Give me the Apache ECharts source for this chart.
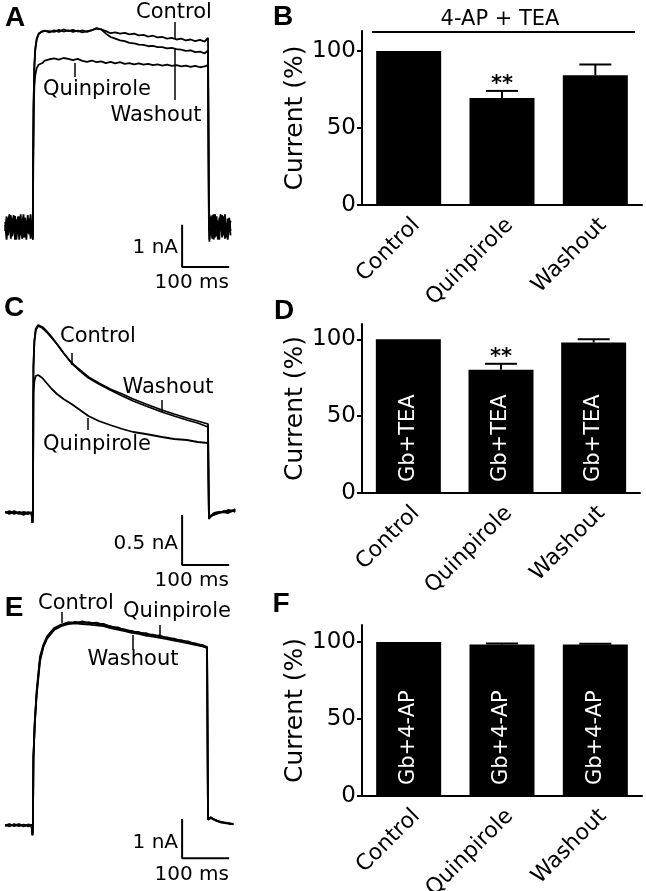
<!DOCTYPE html>
<html>
<head>
<meta charset="utf-8">
<title>Quinpirole and K+ currents</title>
<script src="https://cdn.jsdelivr.net/npm/echarts@6/dist/echarts.min.js"></script>
<style>
  html, body { margin: 0; padding: 0; background: #fff; }
  #chart { width: 646px; height: 891px; }
</style>
</head>
<body>
<div id="chart"></div>
<script>
// ---- bar panels (B, D, F) ----
const conditions = ['Control', 'Quinpirole', 'Washout'];
const yTicks = [0, 50, 100];

const meanB = [100, 69.5, 84.2];
const semB = [0, 4.6, 7.0];
const sigB = ['', '**', ''];

const meanD = [100, 80.3, 98.0];
const semD = [0, 3.8, 2.0];
const sigD = ['', '**', ''];

const meanF = [100, 98.4, 98.3];
const semF = [0, 0.6, 0.6];
const sigF = ['', '', ''];

// ---- current traces (time in ms, current in nA) ----
const aControl = [
  [-59,0.12],[-56,-0.18],[-53,0.22],[-50,-0.05],[-47,0.28],[-44,-0.22],[-41,0.1],[-38,-0.3],[-35,0.18],[-32,-0.12],
  [-29,0.25],[-26,-0.2],[-23,0.05],[-20,0.3],[-17,-0.25],[-14,0.12],[-11,-0.15],[-8,0.2],[-5,-0.28],[-2,0.1],[0,-0.25],
  [0.5,1.6],[1.5,3.0],[3,3.85],[5,4.25],[8,4.48],[12,4.6],[18,4.64],[25,4.67],
  [35,4.63],[45,4.68],[55,4.64],[65,4.7],[75,4.66],[85,4.69],[95,4.65],[105,4.68],[115,4.64],[125,4.68],
  [135,4.73],[145,4.7],[155,4.66],[165,4.61],[175,4.63],[185,4.6],[195,4.62],[205,4.58],[215,4.6],[225,4.56],
  [235,4.57],[245,4.53],[255,4.55],[265,4.51],[275,4.52],[285,4.48],[295,4.5],[305,4.46],[315,4.48],[325,4.44],
  [335,4.46],[345,4.42],[355,4.45],[365,4.41],[372,4.5],
  [374,0.3],[375,-0.35],[378,0.25],[381,-0.15],[384,0.3],[387,-0.25],[390,0.1],[393,-0.3],[396,0.22],[399,-0.1],
  [402,0.28],[405,-0.2],[408,0.15],[411,-0.25],[414,0.2],[417,-0.05],[420,0.15]
];
const aWashout = [
  [-59,-0.1],[-56,0.25],[-53,-0.2],[-50,0.15],[-47,-0.28],[-44,0.2],[-41,-0.12],[-38,0.26],[-35,-0.2],[-32,0.08],
  [-29,-0.3],[-26,0.18],[-23,-0.1],[-20,-0.25],[-17,0.22],[-14,-0.08],[-11,0.28],[-8,-0.18],[-5,0.15],[-2,-0.2],[0,-0.3],
  [0.5,1.5],[1.5,2.95],[3,3.8],[5,4.22],[8,4.46],[12,4.58],[18,4.65],[25,4.66],
  [35,4.66],[45,4.64],[55,4.69],[65,4.65],[75,4.68],[85,4.64],[95,4.67],[105,4.63],[115,4.66],[125,4.68],
  [135,4.72],[145,4.7],[155,4.6],[165,4.52],[175,4.48],[185,4.44],[195,4.42],[205,4.38],[215,4.37],[225,4.34],
  [235,4.33],[245,4.3],[255,4.31],[265,4.28],[275,4.28],[285,4.25],[295,4.26],[305,4.23],[315,4.22],[325,4.19],
  [335,4.2],[345,4.16],[355,4.17],[365,4.13],[372,4.2],
  [374,0.2],[375,-0.3],[378,0.18],[381,-0.28],[384,0.12],[387,0.3],[390,-0.22],[393,0.15],[396,-0.3],[399,0.2],
  [402,-0.12],[405,0.25],[408,-0.28],[411,0.1],[414,-0.15],[417,0.22],[420,-0.1]
];
const aQuinpirole = [
  [-59,0.05],[-56,-0.3],[-53,0.1],[-50,0.3],[-47,-0.15],[-44,0.05],[-41,0.28],[-38,-0.1],[-35,-0.3],[-32,0.25],
  [-29,0.0],[-26,0.3],[-23,-0.28],[-20,0.1],[-17,0.05],[-14,-0.3],[-11,0.2],[-8,-0.05],[-5,0.3],[-2,-0.15],[0,-0.3],
  [0.5,1.5],[1.5,2.8],[3,3.35],[5,3.62],[8,3.78],[12,3.86],[16,3.82],[20,3.9],[25,3.96],
  [35,3.99],[45,4.01],[55,3.98],[65,4.02],[75,4.0],[85,3.97],[95,4.0],[105,3.95],[115,3.93],[125,3.96],
  [135,3.92],[145,3.94],[155,3.9],[165,3.93],[175,3.89],[185,3.92],[195,3.88],[205,3.9],[215,3.87],[225,3.89],
  [235,3.86],[245,3.88],[255,3.85],[265,3.87],[275,3.84],[285,3.86],[295,3.83],[305,3.85],[315,3.82],[325,3.84],
  [335,3.81],[345,3.83],[355,3.8],[365,3.82],[372,3.85],
  [374,-0.1],[375,0.3],[378,-0.2],[381,0.28],[384,-0.3],[387,0.05],[390,0.25],[393,-0.15],[396,0.1],[399,0.3],
  [402,-0.25],[405,0.05],[408,0.3],[411,-0.1],[414,-0.3],[417,0.12],[420,-0.2]
];

const cControl = [
  [-59,0.01],[-50,-0.01],[-40,0.02],[-30,0.0],[-20,-0.02],[-10,0.01],[-3,0.0],[-1,-0.1],[0,0.0],
  [1,1.46],[3,1.72],[6,1.84],[11,1.88],
  [20,1.86],[29,1.82],[40,1.76],[51,1.69],[65,1.6],[82,1.5],[100,1.42],[118,1.35],[140,1.29],[164,1.23],
  [190,1.17],[213,1.12],[240,1.07],[274,1.01],[300,0.97],[327,0.93],[350,0.9],[372,0.86],
  [374,-0.05],[378,-0.03],[385,-0.01],[395,0.0],[405,0.02],[415,0.01],[425,0.03],[430,0.02]
];
const cWashout = [
  [-59,0.0],[-50,0.02],[-40,-0.01],[-30,0.01],[-20,0.0],[-10,-0.01],[-3,0.01],[-1,-0.1],[0,0.0],
  [1,1.45],[3,1.71],[6,1.83],[11,1.87],
  [20,1.85],[29,1.81],[40,1.75],[51,1.69],[65,1.6],[82,1.5],[100,1.43],[118,1.36],[140,1.3],[164,1.24],
  [190,1.19],[213,1.14],[240,1.09],[274,1.03],[300,0.99],[327,0.95],[350,0.92],[372,0.89],
  [374,-0.04],[378,-0.02],[385,0.0],[395,0.01],[405,0.01],[415,0.03],[425,0.02],[430,0.04]
];
const cQuinpirole = [
  [-59,0.01],[-50,0.0],[-40,0.01],[-30,-0.01],[-20,0.01],[-10,0.0],[-3,-0.01],[-1,-0.1],[0,0.0],
  [1,1.2],[3,1.32],[6,1.37],[11,1.38],
  [20,1.35],[29,1.3],[40,1.24],[51,1.19],[65,1.14],[82,1.09],[100,1.03],[118,0.97],[140,0.92],[164,0.88],
  [190,0.84],[213,0.81],[240,0.79],[274,0.76],[300,0.74],[327,0.73],[350,0.71],[372,0.7],
  [374,-0.06],[378,-0.03],[385,-0.02],[395,0.0],[405,0.01],[415,0.0],[425,0.02],[430,0.01]
];

const eControl = [
  [-59,0.02],[-50,-0.03],[-40,0.03],[-30,-0.02],[-20,0.02],[-10,-0.03],[-3,0.0],[-1,-0.26],[0,0.0],
  [1,1.75],[4,2.7],[8,3.46],[15,4.32],[22,4.62],
  [30,4.84],[45,5.05],[60,5.14],[75,5.2],[90,5.18],[105,5.22],[120,5.17],[135,5.19],[150,5.13],[165,5.1],
  [180,5.04],[195,5.02],[210,4.96],[225,4.95],[240,4.89],[255,4.88],[270,4.83],[285,4.81],[300,4.76],
  [315,4.74],[330,4.69],[345,4.66],[360,4.6],[370,4.57],
  [372,0.15],[378,0.2],[383,0.17],[390,0.12],[400,0.08],[410,0.06],[420,0.04],[426,0.03]
];
const eQuinpirole = [
  [-59,0.0],[-50,0.03],[-40,-0.02],[-30,0.02],[-20,-0.03],[-10,0.02],[-3,-0.01],[-1,-0.24],[0,0.0],
  [1,1.7],[4,2.6],[8,3.35],[15,4.2],[22,4.56],
  [30,4.78],[45,5.02],[60,5.12],[75,5.17],[90,5.21],[105,5.18],[120,5.2],[135,5.15],[150,5.16],[165,5.08],
  [180,5.07],[195,4.99],[210,4.98],[225,4.92],[240,4.92],[255,4.85],[270,4.86],[285,4.79],[300,4.78],
  [315,4.71],[330,4.71],[345,4.63],[360,4.62],[370,4.55],
  [372,0.14],[378,0.19],[383,0.15],[390,0.13],[400,0.07],[410,0.07],[420,0.03],[426,0.04]
];
const eWashout = [
  [-59,-0.02],[-50,0.02],[-40,0.0],[-30,0.03],[-20,-0.01],[-10,0.02],[-3,0.01],[-1,-0.25],[0,0.0],
  [1,1.72],[4,2.65],[8,3.4],[15,4.26],[22,4.58],
  [30,4.8],[45,5.0],[60,5.1],[75,5.15],[90,5.17],[105,5.15],[120,5.14],[135,5.12],[150,5.1],[165,5.05],
  [180,5.01],[195,4.97],[210,4.93],[225,4.9],[240,4.86],[255,4.83],[270,4.8],[285,4.77],[300,4.73],
  [315,4.7],[330,4.66],[345,4.62],[360,4.58],[370,4.54],
  [372,0.16],[378,0.21],[383,0.16],[390,0.11],[400,0.09],[410,0.05],[420,0.05],[426,0.02]
];

// scale bars: [ms, nA]
const scaleA = [[317, 0.05], [317, -0.95], [417, -0.95]];
const scaleC = [[317, -0.02], [317, -0.52], [417, -0.52]];
const scaleE = [[317, 0.16], [317, -0.84], [417, -0.84]];

const FONT = 'DejaVu Sans';
const chart = echarts.init(document.getElementById('chart'));

// trace panels: grids 0, 2, 4 ; bar panels: grids 1, 3, 5
const grids = [
  { left: 0, top: 0, width: 240, height: 290 },
  { left: 362, top: 31, width: 280, height: 174 },
  { left: 0, top: 298, width: 240, height: 290 },
  { left: 362, top: 324, width: 278, height: 169 },
  { left: 0, top: 591, width: 240, height: 289 },
  { left: 362, top: 625, width: 280, height: 171 }
].map(g => Object.assign(g, { containLabel: false, outerBoundsMode: 'none' }));
const traceY = [[-1.5, 5.4], [-0.75, 2.15], [-1.4, 6.0]];
const barMax = [113, 110, 111];

const xAxes = [], yAxes = [];
for (let p = 0; p < 3; p++) {
  xAxes.push({ gridIndex: p * 2, type: 'value', min: -70, max: 440, show: false });
  yAxes.push({ gridIndex: p * 2, type: 'value', min: traceY[p][0], max: traceY[p][1], show: false });
  xAxes.push({
    gridIndex: p * 2 + 1, type: 'category', data: conditions,
    axisLine: { lineStyle: { color: '#000', width: 2 } },
    axisTick: { show: false },
    axisLabel: { color: '#000', fontSize: 22, fontFamily: FONT, rotate: 45, margin: 9, interval: 0, verticalAlign: 'top' }
  });
  yAxes.push({
    gridIndex: p * 2 + 1, type: 'value', min: 0, max: barMax[p],
    axisLine: { show: true, lineStyle: { color: '#000', width: 2 } },
    axisTick: { show: true, length: 5, customValues: yTicks, lineStyle: { color: '#000', width: 2 } },
    axisLabel: { color: '#000', fontSize: 23, fontFamily: FONT, margin: 6, customValues: yTicks },
    splitLine: { show: false },
    name: 'Current (%)', nameLocation: 'middle', nameGap: 54,
    nameTextStyle: { color: '#000', fontSize: 25, fontFamily: FONT }
  });
}

function traceSeries(data, idx) {
  return {
    type: 'line', xAxisIndex: idx, yAxisIndex: idx, data: data,
    showSymbol: false, symbol: 'none',
    lineStyle: { color: '#000', width: 1.8 }
  };
}
function scaleSeries(data, idx) {
  return {
    type: 'line', xAxisIndex: idx, yAxisIndex: idx, data: data,
    showSymbol: false, symbol: 'none',
    lineStyle: { color: '#000', width: 2 }
  };
}
function barSeries(means, idx, inner) {
  return {
    type: 'bar', xAxisIndex: idx, yAxisIndex: idx, data: means, barWidth: 65,
    itemStyle: { color: '#000' },
    label: inner ? {
      show: true, formatter: inner, position: 'insideBottom', rotate: 90,
      align: 'left', verticalAlign: 'middle', distance: 11,
      color: '#fff', fontSize: 21, fontFamily: FONT
    } : { show: false }
  };
}
function errorSeries(means, sems, sig, idx) {
  return {
    type: 'custom', xAxisIndex: idx, yAxisIndex: idx, z: 5,
    data: means.map((m, i) => [i, m, sems[i]]),
    renderItem: function (params, api) {
      const i = api.value(0), m = api.value(1), e = api.value(2);
      const base = api.coord([i, m]);
      const top = api.coord([i, m + e]);
      const children = [];
      if (e > 0) {
        children.push({ type: 'line', shape: { x1: base[0], y1: base[1], x2: top[0], y2: top[1] },
          style: { stroke: '#000', lineWidth: 2 } });
        children.push({ type: 'line', shape: { x1: top[0] - 16, y1: top[1], x2: top[0] + 16, y2: top[1] },
          style: { stroke: '#000', lineWidth: 2 } });
      }
      if (sig[params.dataIndex]) {
        children.push({ type: 'text', x: top[0], y: top[1] - 6,
          style: { text: sig[params.dataIndex], font: 'bold 21px ' + FONT, fill: '#000', align: 'center', verticalAlign: 'middle' } });
      }
      return { type: 'group', children: children };
    }
  };
}

// text annotations
function txt(s, x, y, size, align, weight) {
  return { type: 'text', x: x, y: y, z: 10,
    style: { text: s, font: (weight || 'normal') + ' ' + size + 'px ' + (weight ? 'Liberation Sans' : FONT),
      fill: '#000', align: align || 'center', verticalAlign: 'middle' } };
}
function tick(x, y1, y2) {
  return { type: 'line', z: 10, shape: { x1: x, y1: y1, x2: x, y2: y2 }, style: { stroke: '#000', lineWidth: 1.5 } };
}

const graphics = [
  txt('A', 15, 18, 28, 'center', 'bold'),
  txt('B', 283, 17, 28, 'center', 'bold'),
  txt('C', 14, 308, 28, 'center', 'bold'),
  txt('D', 284, 311, 28, 'center', 'bold'),
  txt('E', 14, 608, 28, 'center', 'bold'),
  txt('F', 281, 604, 28, 'center', 'bold'),
  // panel A labels
  txt('Control', 174, 13, 21), tick(175, 22, 39),
  txt('Washout', 156, 116, 21), tick(175, 48, 100),
  txt('Quinpirole', 97, 90, 21), tick(75, 63, 77),
  txt('1 nA', 178, 248, 20, 'right'), txt('100 ms', 229, 283, 20, 'right'),
  // panel C labels
  txt('Control', 98, 337, 21), tick(72, 353, 365),
  txt('Washout', 168, 388, 21), tick(162, 400, 412),
  txt('Quinpirole', 97, 445, 21), tick(88, 418, 430),
  txt('0.5 nA', 178, 544, 20, 'right'), txt('100 ms', 229, 581, 20, 'right'),
  // panel E labels
  txt('Control', 76, 604, 21), tick(62, 612, 623),
  txt('Quinpirole', 177, 612, 21), tick(160, 625, 635),
  txt('Washout', 133, 660, 21), tick(133, 635, 650),
  txt('1 nA', 178, 843, 20, 'right'), txt('100 ms', 229, 875, 20, 'right'),
  // panel B bracket
  { type: 'line', z: 10, shape: { x1: 372, y1: 32, x2: 635, y2: 32 }, style: { stroke: '#000', lineWidth: 2 } },
  txt('4-AP + TEA', 500, 20, 21)
];

const option = {
  animation: false,
  backgroundColor: '#fff',
  textStyle: { fontFamily: FONT },
  grid: grids,
  xAxis: xAxes,
  yAxis: yAxes,
  series: [
    traceSeries(aControl, 0), traceSeries(aWashout, 0), traceSeries(aQuinpirole, 0), scaleSeries(scaleA, 0),
    barSeries(meanB, 1, null), errorSeries(meanB, semB, sigB, 1),
    traceSeries(cControl, 2), traceSeries(cWashout, 2), traceSeries(cQuinpirole, 2), scaleSeries(scaleC, 2),
    barSeries(meanD, 3, 'Gb+TEA'), errorSeries(meanD, semD, sigD, 3),
    traceSeries(eControl, 4), traceSeries(eQuinpirole, 4), traceSeries(eWashout, 4), scaleSeries(scaleE, 4),
    barSeries(meanF, 5, 'Gb+4-AP'), errorSeries(meanF, semF, sigF, 5)
  ],
  graphic: graphics
};
chart.setOption(option);
</script>
</body>
</html>
